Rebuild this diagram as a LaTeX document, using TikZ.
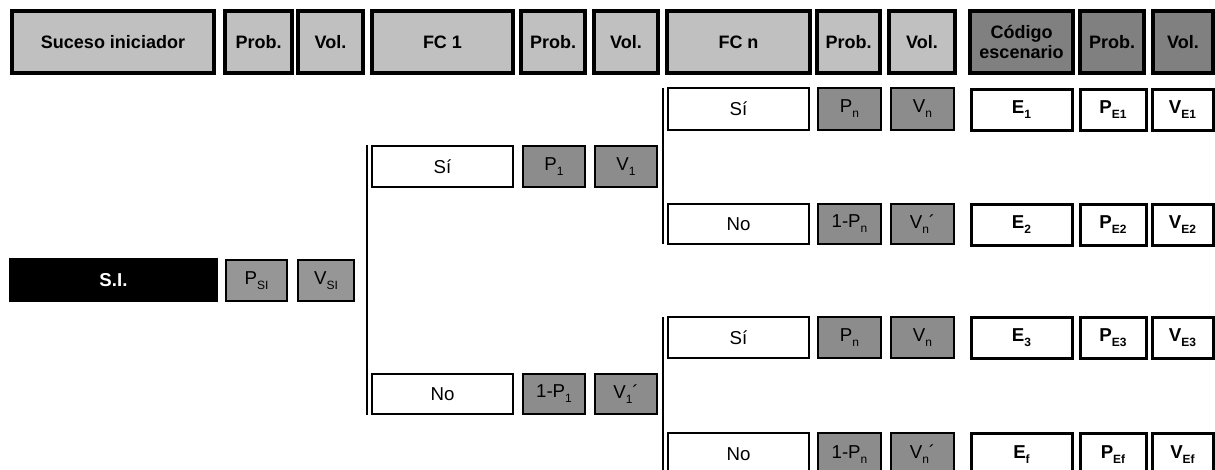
\documentclass[tikz,border=0pt]{standalone}
\usepackage{fontspec}
\setmainfont{Liberation Sans}
\definecolor{hlight}{HTML}{C0C0C0}
\definecolor{hdark}{HTML}{808080}
\definecolor{gval}{HTML}{8C8C8C}
\definecolor{gsi}{HTML}{969696}
\newcommand{\subtx}[1]{\raisebox{-0.5ex}{\fontsize{9}{9}\selectfont #1}}
% \bx{style}{name}{left}{top}{right}{bottom}{text}
\newcommand{\bx}[7]{\node[#1, minimum width={(#5-#3)*0.75pt}, minimum height={(#6-#4)*0.75pt}] (#2) at ({(#3+#5)/2},{(#4+#6)/2}) {#7};}
\begin{document}
\begin{tikzpicture}[x=0.75pt,y=-0.75pt,
  base/.style={rectangle, inner sep=0pt, outer sep=0pt, align=center, font=\fontsize{14}{16}\selectfont},
  head/.style={base, draw=black, line width=3.2pt, fill=hlight, font=\bfseries\fontsize{13.5}{15.5}\selectfont},
  headdark/.style={head, fill=hdark},
  opt/.style={base, draw=black, line width=1.1pt, fill=white},
  val/.style={base, draw=black, line width=1.1pt, fill=gval},
  valsi/.style={base, draw=black, line width=1.1pt, fill=gsi},
  res/.style={base, draw=black, line width=2.25pt, fill=white, font=\bfseries\fontsize{14}{16}\selectfont},
  init/.style={base, fill=black, text=white, font=\bfseries\fontsize{14}{16}\selectfont},
  branch/.style={draw=black, line width=1.2pt}]
\fill[white] (0,0) rectangle (1215,469);
\useasboundingbox (0,0) rectangle (1215,469);
\begin{scope}
\clip (0,0) rectangle (1215,469);
% header
\bx{head}{hsi}{12}{11}{214}{73}{Suceso iniciador}
\bx{head}{hp0}{225}{11}{292}{73}{Prob.}
\bx{head}{hv0}{298}{11}{363}{73}{Vol.}
\bx{head}{hfc1}{372}{11}{513}{73}{FC 1}
\bx{head}{hp1}{521}{11}{585}{73}{Prob.}
\bx{head}{hv1}{594}{11}{658}{73}{Vol.}
\bx{head}{hfcn}{667}{11}{810}{73}{FC n}
\bx{head}{hpn}{817}{11}{880}{73}{Prob.}
\bx{head}{hvn}{889}{11}{955}{73}{Vol.}
\bx{headdark}{hcod}{970}{11}{1073}{73}{Código\\escenario}
\bx{headdark}{hpe}{1080}{11}{1144}{73}{Prob.}
\bx{headdark}{hve}{1153}{11}{1213}{73}{Vol.}
% initiating event
\bx{init}{si}{9}{258}{218}{302}{S.I.}
\bx{valsi}{psi}{226}{260}{287}{301}{P\subtx{SI}}
\bx{valsi}{vsi}{298}{260}{354}{301}{V\subtx{SI}}
% FC 1
\bx{opt}{s1}{372}{146}{513}{187}{Sí}
\bx{val}{p1}{523}{146}{585}{187}{P\subtx{1}}
\bx{val}{v1}{595}{146}{657}{187}{V\subtx{1}}
\bx{opt}{n1}{372}{374}{513}{414}{No}
\bx{val}{np1}{523}{374}{585}{414}{1-P\subtx{1}}
\bx{val}{nv1}{595}{374}{657}{414}{V\subtx{1}´}
% FC n, upper
\bx{opt}{sa}{668}{88}{809}{130}{Sí}
\bx{val}{pa}{818}{88}{881}{130}{P\subtx{n}}
\bx{val}{va}{891}{88}{954}{130}{V\subtx{n}}
\bx{opt}{nb}{668}{204}{809}{244}{No}
\bx{val}{pb}{818}{204}{881}{244}{1-P\subtx{n}}
\bx{val}{vb}{891}{204}{954}{244}{V\subtx{n}´}
% FC n, lower
\bx{opt}{sc}{668}{317}{809}{358}{Sí}
\bx{val}{pc}{818}{317}{881}{358}{P\subtx{n}}
\bx{val}{vc}{891}{317}{954}{358}{V\subtx{n}}
\bx{opt}{nd}{668}{433}{809}{476}{No}
\bx{val}{pd}{818}{433}{881}{476}{1-P\subtx{n}}
\bx{val}{vd}{891}{433}{954}{476}{V\subtx{n}´}
% results
\bx{res}{e1}{971}{89}{1072}{130}{E\subtx{1}}
\bx{res}{pe1}{1080}{89}{1146}{130}{P\subtx{E1}}
\bx{res}{ve1}{1152}{89}{1213}{130}{V\subtx{E1}}
\bx{res}{e2}{971}{204}{1072}{245}{E\subtx{2}}
\bx{res}{pe2}{1080}{204}{1146}{245}{P\subtx{E2}}
\bx{res}{ve2}{1152}{204}{1213}{245}{V\subtx{E2}}
\bx{res}{e3}{971}{317}{1072}{358}{E\subtx{3}}
\bx{res}{pe3}{1080}{317}{1146}{358}{P\subtx{E3}}
\bx{res}{ve3}{1152}{317}{1213}{358}{V\subtx{E3}}
\bx{res}{ef}{971}{433}{1072}{476}{E\subtx{f}}
\bx{res}{pef}{1080}{433}{1146}{476}{P\subtx{Ef}}
\bx{res}{vef}{1152}{433}{1213}{476}{V\subtx{Ef}}
% branch lines
\draw[branch] ([xshift=-3.75pt,yshift=0.5pt]s1.north west) -- ([xshift=-3.75pt,yshift=-1pt]n1.south west);
\draw[branch] ([xshift=-3.75pt]sa.north west) -- ([xshift=-3.75pt]nb.south west);
\draw[branch] ([xshift=-3.75pt]sc.north west) -- ([xshift=-3.75pt]nd.south west);
\end{scope}
\end{tikzpicture}
\end{document}
